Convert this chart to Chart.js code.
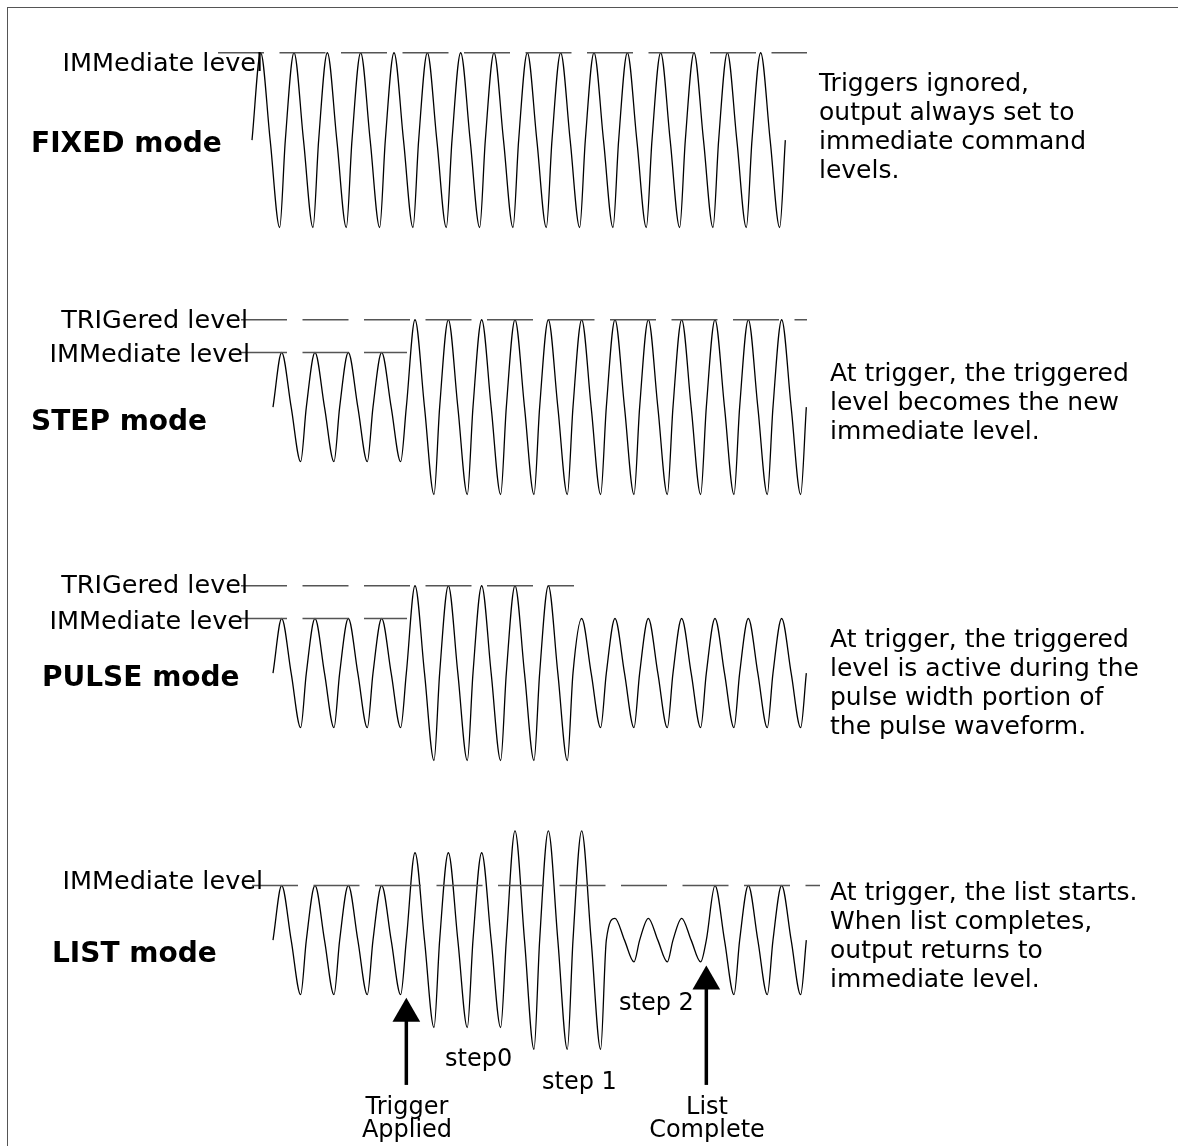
<!DOCTYPE html>
<html>
<head>
<meta charset="utf-8">
<script src="https://cdn.jsdelivr.net/npm/chart.js@4.4.1/dist/chart.umd.min.js"></script>
<style>
  html, body { margin: 0; padding: 0; background: #fff; }
  #page { position: relative; width: 1178px; height: 1146px; overflow: hidden; background: #fff;
          font-family: "DejaVu Sans", sans-serif; color: #000; }
  #frame { position: absolute; left: 7px; top: 7px; width: 1300px; height: 1300px;
           border-left: 1.5px solid #555; border-top: 1.5px solid #555; }
  canvas { position: absolute; left: 0; }
  .t { position: absolute; white-space: nowrap; }
  .lvl { font-size: 25.5px; line-height: 24px; text-align: right; }
  .mode { font-size: 28px; line-height: 28px; font-weight: bold; }
  .desc { font-size: 25px; line-height: 29px; }
  .step { font-size: 24px; line-height: 24px; }
  .arr { font-size: 24px; line-height: 23px; text-align: center; width: 200px; }
</style>
</head>
<body>
<div id="page">
  <div id="frame"></div>
  <canvas id="fixedRow" width="1178" height="273" style="top:20px"></canvas>
  <canvas id="stepRow" width="1178" height="273" style="top:287px"></canvas>
  <canvas id="pulseRow" width="1178" height="273" style="top:553px"></canvas>
  <canvas id="listRow" width="1178" height="273" style="top:820px"></canvas>

  <div class="t lvl" style="right:915px; top:50px">IMMediate level</div>
  <div class="t mode" style="left:31px; top:129px">FIXED mode</div>
  <div class="t desc" style="left:819px; top:68px">Triggers ignored,<br>output always set to<br>immediate command<br>levels.</div>

  <div class="t lvl" style="right:930px; top:307px">TRIGered level</div>
  <div class="t lvl" style="right:928px; top:341px">IMMediate level</div>
  <div class="t mode" style="left:31px; top:407px">STEP mode</div>
  <div class="t desc" style="left:830px; top:358px">At trigger, the triggered<br>level becomes the new<br>immediate level.</div>

  <div class="t lvl" style="right:930px; top:572px">TRIGered level</div>
  <div class="t lvl" style="right:928px; top:608px">IMMediate level</div>
  <div class="t mode" style="left:42px; top:663px">PULSE mode</div>
  <div class="t desc" style="left:830px; top:624px">At trigger, the triggered<br>level is active during the<br>pulse width portion of<br>the pulse waveform.</div>

  <div class="t lvl" style="right:915px; top:868px">IMMediate level</div>
  <div class="t mode" style="left:52px; top:939px">LIST mode</div>
  <div class="t desc" style="left:830px; top:877px">At trigger, the list starts.<br>When list completes,<br>output returns to<br>immediate level.</div>
  <div class="t step" style="left:445px; top:1046px">step0</div>
  <div class="t step" style="left:542px; top:1069px">step 1</div>
  <div class="t step" style="left:619px; top:990px">step 2</div>
  <div class="t arr" style="left:307px; top:1095px">Trigger<br>Applied</div>
  <div class="t arr" style="left:607px; top:1095px">List<br>Complete</div>
</div>
<script>
// peak level of each output cycle (16 cycles per trace)
var fixedPeaks = [8, 8, 8, 8, 8, 8, 8, 8, 8, 8, 8, 8, 8, 8, 8, 8];
var stepPeaks  = [5, 5, 5, 5, 8, 8, 8, 8, 8, 8, 8, 8, 8, 8, 8, 8];
var pulsePeaks = [5, 5, 5, 5, 8, 8, 8, 8, 8, 5, 5, 5, 5, 5, 5, 5];
var listPeaks  = [5, 5, 5, 5, 8, 8, 8, 10, 10, 10, 2, 2, 2, 5, 5, 5];

// dashed level lines: [level, from cycle, to cycle]
var fixedLevelLines = [[8, -1.02, 16.65]];
var stepLevelLines  = [[8, -0.96, 16.02], [5, -0.96, 4.02]];
var pulseLevelLines = [[8, -0.96, 9.03], [5, -0.96, 4.02]];
var listLevelLines  = [[5, -0.63, 16.41]];

// list mode arrows: trigger applied, list complete
var arrowTimes = [4, 13];
var arrowTips = [-6.74, -3.78];
var arrowBottom = -13.26;

// where a cycle reaches mid, peak, mid, trough
var cyclePhase = [0, 0.26, 0.545, 0.83];
var cycleShape = [0, 1, 0, -1];

var pxPerCycle = 33.333;

function wavePoints(peaks) {
    var pts = [];
    peaks.forEach(function(a, i) {
        for (var k = 0; k < cyclePhase.length; k++) {
            pts.push({ x: i + cyclePhase[k], y: a * cycleShape[k] });
        }
    });
    pts.push({ x: peaks.length, y: 0 });
    return pts;
}

function levelSets(lines) {
    return lines.map(function(l) {
        return {
            data: [{ x: l[1], y: l[0] }, { x: l[2], y: l[0] }],
            borderColor: '#555',
            borderWidth: 1.4,
            borderDash: [46, 15.5],
            pointRadius: 0,
            tension: 0
        };
    });
}

function makeRow(id, startPx, peaks, lines, extra) {
    var datasets = levelSets(lines);
    datasets.push({
        data: wavePoints(peaks),
        borderColor: '#000',
        borderWidth: 1.3,
        pointRadius: 0,
        cubicInterpolationMode: 'monotone'
    });
    if (extra) datasets = datasets.concat(extra);
    new Chart(document.getElementById(id).getContext('2d'), {
        type: 'line',
        data: { datasets: datasets },
        options: {
            responsive: false,
            animation: false,
            events: [],
            layout: { padding: 0, autoPadding: false },
            plugins: { legend: { display: false }, tooltip: { enabled: false } },
            scales: {
                x: { type: 'linear', display: false,
                     min: -startPx / pxPerCycle, max: (1178 - startPx) / pxPerCycle },
                y: { type: 'linear', display: false, min: -14, max: 11 }
            }
        }
    });
}

var arrows = arrowTimes.map(function(t, i) {
    return {
        data: [{ x: t, y: arrowBottom }, { x: t, y: arrowTips[i] }],
        borderColor: '#000',
        borderWidth: 3.5,
        pointRadius: [0, 16],
        pointStyle: 'triangle',
        pointBackgroundColor: '#000',
        pointBorderColor: '#000',
        pointBorderWidth: 0,
        clip: false
    };
});

makeRow('fixedRow', 252, fixedPeaks, fixedLevelLines);
makeRow('stepRow', 273, stepPeaks, stepLevelLines);
makeRow('pulseRow', 273, pulsePeaks, pulseLevelLines);
makeRow('listRow', 273, listPeaks, listLevelLines, arrows);
</script>
</body>
</html>
